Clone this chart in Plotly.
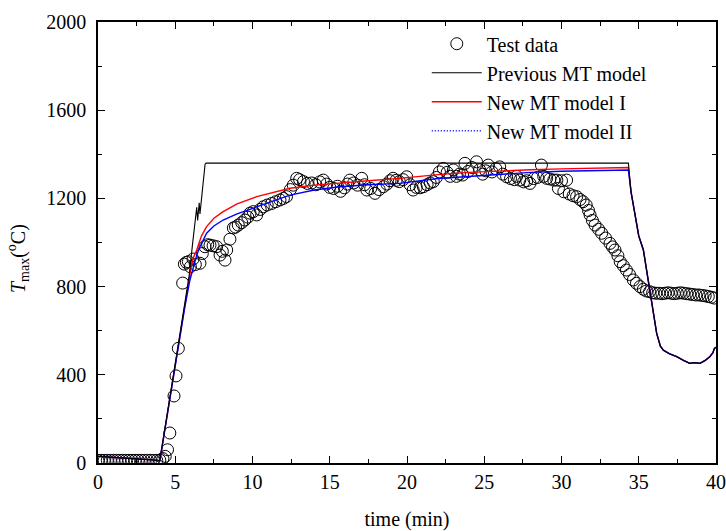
import plotly.graph_objects as go

# ---------------- Test data ----------------
test_t = [0.0, 0.2, 0.4, 0.6, 0.8, 1.0, 1.2, 1.4, 1.6, 1.8, 2.0, 2.2, 2.4, 2.6, 2.8, 3.0,
          3.2, 3.4, 3.6, 3.8, 4.0, 4.2, 4.35, 4.5, 4.65, 4.92, 5.05, 5.2, 5.48, 5.59,
          5.72, 5.85, 5.98, 6.15, 6.3, 6.6, 6.75, 6.92, 7.1, 7.25, 7.45, 7.68, 7.9,
          8.05, 8.22, 8.33, 8.54, 8.76, 8.9, 9.08, 9.3, 9.5, 9.7, 9.84, 10.05, 10.27,
          10.5, 10.7, 10.95, 11.24, 11.5, 11.78, 12.0, 12.2, 12.45, 12.64, 12.86, 13.05,
          13.3, 13.55, 13.83, 14.1, 14.35, 14.58, 14.8, 15.0, 15.25, 15.5, 15.7, 15.95,
          16.15, 16.3, 16.55, 16.8, 17.07, 17.25, 17.4, 17.65, 17.93, 18.2, 18.47, 18.7,
          18.9, 19.1, 19.3, 19.5, 19.75, 19.98, 20.2, 20.4, 20.6, 20.85, 21.06, 21.3,
          21.5, 21.7, 21.9, 22.1, 22.35, 22.6, 22.8, 23.0, 23.2, 23.4, 23.6, 23.75,
          23.95, 24.2, 24.5, 24.7, 24.9, 25.1, 25.26, 25.5, 25.75, 26.0, 26.2, 26.45,
          26.7, 26.95, 27.1, 27.3, 27.55, 27.75, 27.96, 28.2, 28.45, 28.7, 28.85, 29.04,
          29.25, 29.5, 29.7, 29.8, 30.0, 30.15, 30.33, 30.5, 30.75, 30.98, 31.2, 31.4,
          31.6, 31.75, 31.85, 32.0, 32.17, 32.4, 32.6, 32.85, 33.14, 33.3, 33.46, 33.65,
          33.8, 34.0, 34.2, 34.4, 34.65, 34.85, 35.08, 35.3, 35.5, 35.7, 35.9, 36.1,
          36.3, 36.5, 36.7, 36.9, 37.1, 37.3, 37.5, 37.7, 37.9, 38.1, 38.3, 38.5, 38.7,
          38.9, 39.1, 39.3, 39.5, 39.7, 39.9]
test_T = [12, 12, 12, 12, 12, 12, 12, 12, 12, 12, 12, 12, 12, 12, 12, 12,
          12, 12, 12, 12, 13, 20, 30, 60, 136, 304, 395, 520, 816, 902,
          910, 913, 890, 925, 900, 906, 950, 981, 990, 988, 985, 981, 943,
          960, 920, 966, 1015, 1066, 1070, 1079, 1090, 1102, 1115, 1133, 1140, 1125,
          1150, 1162, 1170, 1177, 1185, 1193, 1200, 1208, 1240, 1260, 1291, 1285,
          1276, 1268, 1270, 1262, 1275, 1283, 1265, 1250, 1245, 1255, 1232, 1248,
          1265, 1283, 1270, 1260, 1291, 1262, 1238, 1245, 1223, 1240, 1253, 1265,
          1280, 1291, 1282, 1276, 1285, 1298, 1262, 1238, 1250, 1248, 1253, 1262,
          1270, 1276, 1295, 1320, 1336, 1318, 1300, 1329, 1300, 1310, 1306, 1359,
          1322, 1340, 1366, 1330, 1310, 1325, 1351, 1320, 1335, 1343, 1310, 1298,
          1290, 1285, 1300, 1283, 1275, 1280, 1268, 1290, 1295, 1351, 1300, 1291,
          1288, 1283, 1283, 1245, 1280, 1230, 1283, 1220, 1212, 1208, 1195, 1185,
          1170, 1145, 1125, 1100, 1079, 1060, 1042, 1020, 996, 980, 966, 940,
          913, 895, 875, 855, 830, 815, 800, 788, 780, 777, 772, 770,
          770, 768, 770, 772, 770, 768, 770, 772, 770, 768, 766, 764, 762,
          762, 760, 758, 755, 752, 748]

# ---------------- Model curves ----------------
prev_t = [0.0, 0.5, 1.0, 1.5, 2.0, 2.5, 3.0, 3.5, 4.0, 5.0, 5.9, 6.1, 6.3, 6.39, 6.45,
          6.55, 6.6, 6.93, 7.0, 34.33, 34.5, 34.76, 35.0, 35.3, 35.5, 35.84, 36.0, 36.16,
          36.4, 36.59, 37.0, 37.46, 37.9, 38.3, 38.6, 38.96, 39.3, 39.6, 39.8, 39.9, 40.0]
prev_T = [30, 28, 27, 24, 22, 20, 18, 14, 10, 447, 850, 980, 1100, 1160, 1100,
          1180, 1130, 1355, 1360, 1360, 1230, 1117, 1030, 966, 880, 739, 650, 588,
          530, 512, 495, 482, 465, 452, 455, 452, 465, 482, 500, 520, 525]

new1_t = [0.0, 0.5, 1.0, 1.5, 2.0, 2.5, 3.0, 3.5, 4.0, 5.0, 5.95, 6.1, 6.39, 6.7, 7.03,
          7.5, 8.1, 9.0, 10.27, 11.5, 12.43, 14.0, 15.66, 17.5, 19.5, 22.0, 24.0, 26.0,
          28.0, 30.0, 32.0, 34.33, 34.5, 34.76, 35.0, 35.3, 35.5, 35.84, 36.0, 36.16,
          36.4, 36.59, 37.0, 37.46, 37.9, 38.3, 38.6, 38.96, 39.3, 39.6, 39.8, 39.9, 40.0]
new1_T = [30, 28, 27, 24, 22, 20, 18, 14, 10, 447, 870, 920, 966, 1030, 1072,
          1110, 1140, 1175, 1208, 1230, 1246, 1260, 1268, 1280, 1291, 1308, 1318, 1325,
          1330, 1334, 1337, 1340, 1230, 1117, 1030, 966, 880, 739, 650, 588,
          530, 512, 495, 482, 465, 452, 455, 452, 465, 482, 500, 520, 525]

new2_t = [0.0, 0.5, 1.0, 1.5, 2.0, 2.5, 3.0, 3.5, 4.0, 5.0, 5.6, 5.95, 6.17, 6.4, 6.6,
          7.03, 7.5, 8.1, 9.0, 10.27, 11.5, 12.43, 14.0, 15.66, 17.5, 19.5, 22.0, 24.0,
          26.0, 28.0, 30.0, 32.0, 34.33, 34.5, 34.76, 35.0, 35.3, 35.5, 35.84, 36.0,
          36.16, 36.4, 36.59, 37.0, 37.46, 37.9, 38.3, 38.6, 38.96, 39.3, 39.6, 39.8,
          39.9, 40.0]
new2_T = [30, 28, 27, 24, 22, 20, 18, 14, 10, 447, 700, 830, 890, 945, 981,
          1042, 1075, 1102, 1130, 1162, 1195, 1215, 1238, 1253, 1262, 1268, 1290, 1300,
          1310, 1318, 1323, 1326, 1329, 1230, 1117, 1030, 966, 880, 739, 650,
          588, 530, 512, 495, 482, 465, 452, 455, 452, 465, 482, 500, 520, 525]

x_ticks = [0, 5, 10, 15, 20, 25, 30, 35, 40]
y_ticks = [0, 400, 800, 1200, 1600, 2000]

FONT = "Liberation Serif, Times New Roman, serif"
FS = 20

fig = go.Figure()
fig.add_trace(go.Scatter(x=test_t, y=test_T, mode="markers", name="Test data",
                         marker=dict(symbol="circle-open", size=12, color="black",
                                     line=dict(width=1, color="black")),
                         legendrank=1))
fig.add_trace(go.Scatter(x=new1_t, y=new1_T, mode="lines", name="New MT model I",
                         line=dict(color="red", width=1.4), legendrank=3))
fig.add_trace(go.Scatter(x=new2_t, y=new2_T, mode="lines", name="New MT model II",
                         line=dict(color="blue", width=1.4), showlegend=False))
fig.add_trace(go.Scatter(x=[None], y=[None], mode="lines", name="New MT model II",
                         line=dict(color="blue", width=1.5, dash="1px,2px"), legendrank=4))
fig.add_trace(go.Scatter(x=prev_t, y=prev_T, mode="lines", name="Previous MT model",
                         line=dict(color="black", width=1.1), legendrank=2))

axis_common = dict(showline=True, linecolor="black", linewidth=1.5, mirror="allticks",
                   ticks="inside", ticklen=7, tickwidth=1.2, tickcolor="black",
                   showgrid=False, zeroline=False, automargin=False,
                   ticklabeloverflow="allow",
                   tickfont=dict(family=FONT, size=FS, color="black"),
                   minor=dict(ticks="inside", ticklen=4, tickwidth=1, tickcolor="black"))

fig.update_xaxes(range=[0, 40], tickvals=x_ticks, ticktext=[str(v) for v in x_ticks],
                 title=dict(text="time (min)", font=dict(family=FONT, size=FS, color="black"),
                            standoff=20),
                 minor_dtick=2.5, **axis_common)
fig.update_yaxes(range=[0, 2000], tickvals=y_ticks, ticktext=[str(v) for v in y_ticks],
                 ticklabelstandoff=6, minor_dtick=200, **axis_common)

fig.add_annotation(text="<i>T</i><sub>max</sub>(<sup>o</sup>C)", textangle=-90,
                   xref="paper", yref="paper", x=-0.129, y=0.463,
                   xanchor="center", yanchor="middle", showarrow=False,
                   font=dict(family=FONT, size=FS, color="black"))

fig.update_layout(width=726, height=531, margin=dict(l=98, r=10, t=22, b=68),
                  paper_bgcolor="white", plot_bgcolor="white",
                  font=dict(family=FONT, color="black"),
                  legend=dict(x=0.532, y=0.995, xanchor="left", yanchor="top",
                              bgcolor="rgba(0,0,0,0)", borderwidth=0,
                              font=dict(family=FONT, size=FS, color="black"),
                              itemwidth=50, tracegroupgap=0))

fig.write_html("out.html")
